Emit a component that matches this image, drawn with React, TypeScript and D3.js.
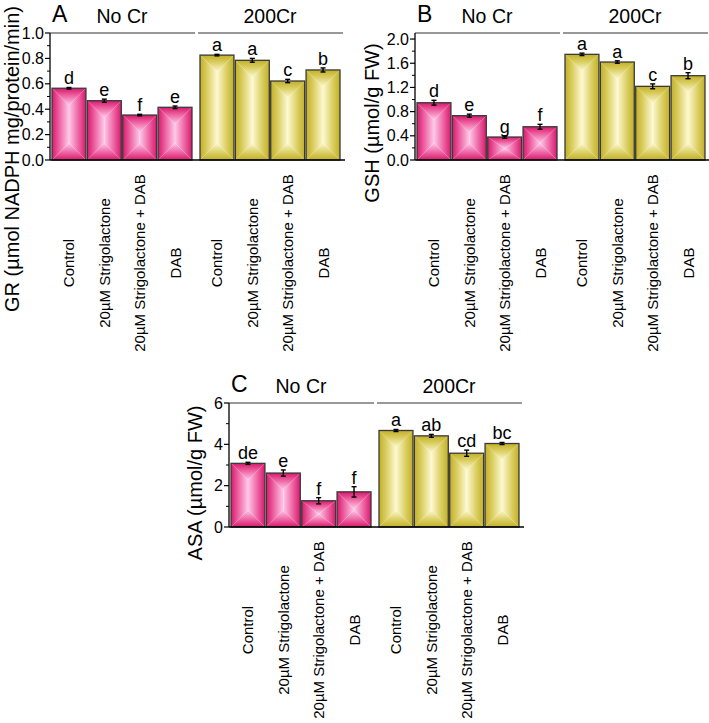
import * as d3 from "d3";
import React from "react";

const FONT = "Arial, 'Liberation Sans', sans-serif";

const groups = ["No Cr", "200Cr"];
const treatments = [
  "Control",
  "20µM Strigolactone",
  "20µM Strigolactone + DAB",
  "DAB",
];

// GR (A)
const grNoCr = [0.565, 0.467, 0.354, 0.415];
const grCr = [0.826, 0.785, 0.622, 0.709];
const grErrNoCr = [0.006, 0.012, 0.006, 0.01];
const grErrCr = [0.006, 0.015, 0.013, 0.016];
const grLetNoCr = ["d", "e", "f", "e"];
const grLetCr = ["a", "a", "c", "b"];
const grTicks = [0, 0.2, 0.4, 0.6, 0.8, 1.0];
const grMinor = [0.1, 0.3, 0.5, 0.7, 0.9];

// GSH (B)
const gshNoCr = [0.947, 0.733, 0.38, 0.55];
const gshCr = [1.747, 1.62, 1.218, 1.394];
const gshErrNoCr = [0.04, 0.025, 0.02, 0.04];
const gshErrCr = [0.02, 0.02, 0.04, 0.05];
const gshLetNoCr = ["d", "e", "g", "f"];
const gshLetCr = ["a", "a", "c", "b"];
const gshTicks = [0, 0.4, 0.8, 1.2, 1.6, 2.0];
const gshMinor = [0.2, 0.6, 1.0, 1.4, 1.8];

// ASA (C)
const asaNoCr = [3.08, 2.61, 1.27, 1.7];
const asaCr = [4.67, 4.41, 3.57, 4.04];
const asaErrNoCr = [0.05, 0.15, 0.15, 0.25];
const asaErrCr = [0.05, 0.07, 0.15, 0.05];
const asaLetNoCr = ["de", "e", "f", "f"];
const asaLetCr = ["a", "ab", "cd", "bc"];
const asaTicks = [0, 2, 4, 6];
const asaMinor = [1, 3, 5];

const colors: Record<string, { edge: string; mid: string; center: string }> = {
  pink: { edge: "#d8196d", mid: "#ec5d9e", center: "#ffc8e8" },
  yellow: { edge: "#c2b026", mid: "#d9cc5e", center: "#fdf9d0" },
};

type PanelDef = {
  id: string;
  x0: number;
  top: number;
  bottom: number;
  domain: [number, number];
  ticks: number[];
  minor: number[];
  fmt: (v: number) => string;
  title: string;
  titleX: number;
  titleY: number;
  values: number[][];
  errors: number[][];
  letters: string[][];
};

const panels: PanelDef[] = [
  {
    id: "A",
    x0: 50,
    top: 33,
    bottom: 160,
    domain: [0, 1.0],
    ticks: grTicks,
    minor: grMinor,
    fmt: d3.format(".1f"),
    title: "GR (µmol NADPH mg/protein/min)",
    titleX: 12,
    titleY: 159,
    values: [grNoCr, grCr],
    errors: [grErrNoCr, grErrCr],
    letters: [grLetNoCr, grLetCr],
  },
  {
    id: "B",
    x0: 415,
    top: 33,
    bottom: 160,
    domain: [0, 2.1],
    ticks: gshTicks,
    minor: gshMinor,
    fmt: d3.format(".1f"),
    title: "GSH (µmol/g FW)",
    titleX: 372,
    titleY: 123,
    values: [gshNoCr, gshCr],
    errors: [gshErrNoCr, gshErrCr],
    letters: [gshLetNoCr, gshLetCr],
  },
  {
    id: "C",
    x0: 229,
    top: 403,
    bottom: 527,
    domain: [0, 6],
    ticks: asaTicks,
    minor: asaMinor,
    fmt: d3.format("d"),
    title: "ASA (µmol/g FW)",
    titleX: 195,
    titleY: 483,
    values: [asaNoCr, asaCr],
    errors: [asaErrNoCr, asaErrCr],
    letters: [asaLetNoCr, asaLetCr],
  },
];

const GradientDefs = () => (
  <defs>
    {Object.entries(colors).map(([name, c]) =>
      [
        ["t", 0, 0, 0, 1],
        ["b", 0, 1, 0, 0],
        ["l", 0, 0, 1, 0],
        ["r", 1, 0, 0, 0],
      ].map(([dir, x1, y1, x2, y2]) => (
        <linearGradient
          key={`${name}-${dir}`}
          id={`g-${name}-${dir}`}
          x1={x1 as number}
          y1={y1 as number}
          x2={x2 as number}
          y2={y2 as number}
        >
          <stop offset="0" stopColor={c.edge} />
          <stop offset="0.4" stopColor={c.mid} />
          <stop offset="1" stopColor={c.center} />
        </linearGradient>
      ))
    )}
  </defs>
);

// box-shaped gradient fill made of four pieces
const Bar = ({ x, y, w, h, color }: { x: number; y: number; w: number; h: number; color: string }) => {
  const cx = x + w / 2;
  const d = Math.min(w / 2, h / 2);
  const yt = y + d;
  const yb = y + h - d;
  return (
    <g>
      <polygon points={`${x},${y} ${cx},${yt} ${cx},${yb} ${x},${y + h}`} fill={`url(#g-${color}-l)`} />
      <polygon points={`${x + w},${y} ${cx},${yt} ${cx},${yb} ${x + w},${y + h}`} fill={`url(#g-${color}-r)`} />
      <polygon points={`${x},${y} ${x + w},${y} ${cx},${yt}`} fill={`url(#g-${color}-t)`} />
      <polygon points={`${x},${y + h} ${x + w},${y + h} ${cx},${yb}`} fill={`url(#g-${color}-b)`} />
      <rect x={x} y={y} width={w} height={h} fill="none" stroke="#3a3a3a" strokeWidth={1.3} />
    </g>
  );
};

const Panel = ({ p }: { p: PanelDef }) => {
  const y = d3.scaleLinear().domain(p.domain).range([p.bottom, p.top]);
  const gx = d3
    .scaleBand<string>()
    .domain(groups)
    .range([p.x0 + 2, p.x0 + 290])
    .paddingInner(8 / 148);
  const bx = d3
    .scaleBand<string>()
    .domain(treatments)
    .range([0, gx.bandwidth()])
    .paddingInner(0.04);

  return (
    <g fontFamily={FONT}>
      <text x={p.x0 + 2} y={p.top - 11} fontSize={23}>
        {p.id}
      </text>
      <text
        transform={`translate(${p.titleX},${p.titleY}) rotate(-90)`}
        textAnchor="middle"
        dominantBaseline="central"
        fontSize={20}
      >
        {p.title}
      </text>
      {groups.map((g, gi) => {
        const gStart = gx(g)!;
        return (
          <g key={g}>
            <line
              x1={gStart - 2}
              x2={gStart + gx.bandwidth() + 3}
              y1={p.top}
              y2={p.top}
              stroke="#333"
              strokeWidth={1.2}
            />
            <text
              x={gStart + gx.bandwidth() / 2}
              y={p.top - 10}
              textAnchor="middle"
              fontSize={19.5}
            >
              {g}
            </text>
            {treatments.map((t, ti) => {
              const v = p.values[gi][ti];
              const e = p.errors[gi][ti];
              const bxPos = gStart + bx(t)!;
              const w = bx.bandwidth();
              const cx = bxPos + w / 2;
              return (
                <g key={t}>
                  <Bar
                    x={bxPos}
                    y={y(v)}
                    w={w}
                    h={p.bottom - y(v)}
                    color={gi === 0 ? "pink" : "yellow"}
                  />
                  <g stroke="#000" strokeWidth={1.4}>
                    <line x1={cx} x2={cx} y1={y(v - e)} y2={y(v + e)} />
                    <line x1={cx - 2.5} x2={cx + 2.5} y1={y(v - e)} y2={y(v - e)} />
                    <line x1={cx - 2.5} x2={cx + 2.5} y1={y(v + e)} y2={y(v + e)} />
                  </g>
                  <text x={cx} y={y(v + e) - 3} textAnchor="middle" fontSize={18}>
                    {p.letters[gi][ti]}
                  </text>
                  <text
                    transform={`translate(${cx},${p.bottom + 103}) rotate(-90)`}
                    textAnchor="middle"
                    dominantBaseline="central"
                    fontSize={15}
                  >
                    {t}
                  </text>
                </g>
              );
            })}
          </g>
        );
      })}
      {/* axes */}
      <line x1={p.x0} x2={p.x0} y1={p.top} y2={p.bottom} stroke="#000" strokeWidth={1.3} />
      <line x1={p.x0} x2={p.x0 + 295} y1={p.bottom} y2={p.bottom} stroke="#000" strokeWidth={1.3} />
      {p.ticks.map((t) => (
        <g key={t}>
          <line x1={p.x0 - 5} x2={p.x0} y1={y(t)} y2={y(t)} stroke="#000" strokeWidth={1.2} />
          <text x={p.x0 - 6} y={y(t)} dy="0.35em" textAnchor="end" fontSize={16}>
            {p.fmt(t)}
          </text>
        </g>
      ))}
      {p.minor.map((t) => (
        <line key={t} x1={p.x0 - 3} x2={p.x0} y1={y(t)} y2={y(t)} stroke="#000" strokeWidth={1} />
      ))}
    </g>
  );
};

export default function App() {
  return (
    <svg
      width={709}
      height={723}
      style={{ position: "absolute", left: 0, top: 0, background: "#fff" }}
    >
      <GradientDefs />
      {panels.map((p) => (
        <Panel key={p.id} p={p} />
      ))}
    </svg>
  );
}
